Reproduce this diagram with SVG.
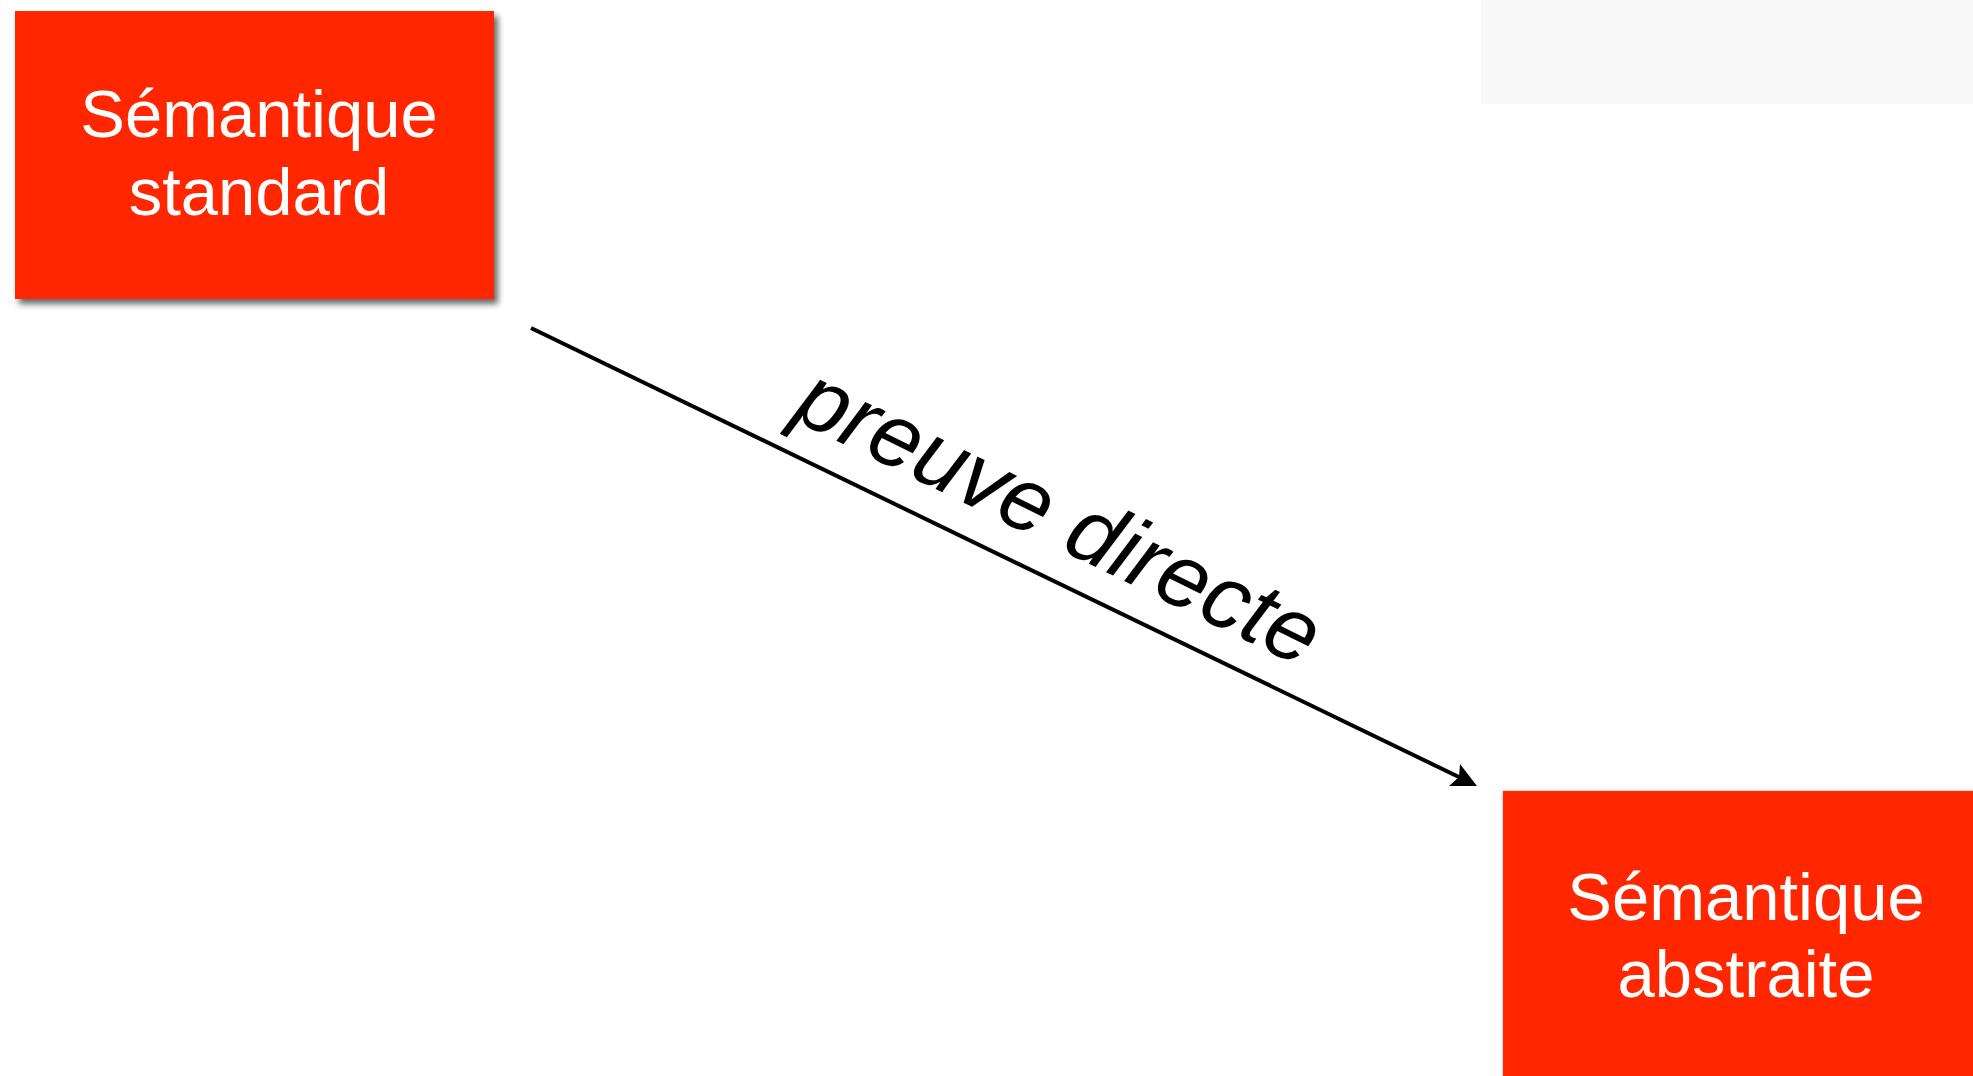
<svg xmlns="http://www.w3.org/2000/svg" width="1973" height="1076" viewBox="0 0 1973 1076">
  <style>
    .box { fill: #ff2600; }
    .box-label { font-family: "Liberation Sans", Arial, sans-serif; font-size: 67px; fill: #ffffff; text-anchor: middle; }
    .edge { stroke: #000000; stroke-width: 4; fill: none; }
    .edge-label { font-family: "Liberation Sans", Arial, sans-serif; font-size: 90px; font-style: italic; fill: #000000; }
  </style>
  <defs>
    <filter id="drop" x="-10%" y="-10%" width="130%" height="130%">
      <feGaussianBlur in="SourceAlpha" stdDeviation="3"/>
      <feOffset dx="4" dy="5" result="blur"/>
      <feComponentTransfer><feFuncA type="linear" slope="0.6"/></feComponentTransfer>
      <feMerge><feMergeNode/><feMergeNode in="SourceGraphic"/></feMerge>
    </filter>
    <filter id="halo" x="-10%" y="-10%" width="130%" height="130%">
      <feGaussianBlur in="SourceAlpha" stdDeviation="1.5"/>
      <feComponentTransfer><feFuncA type="linear" slope="0.35"/></feComponentTransfer>
      <feMerge><feMergeNode/><feMergeNode in="SourceGraphic"/></feMerge>
    </filter>
  </defs>

  <rect width="1973" height="1076" fill="#ffffff"/>

  <!-- light panel in the upper right corner -->
  <rect x="1481" y="0" width="492" height="104" fill="#f9f9f9"/>

  <g id="node-standard">
    <rect class="box" x="15" y="11" width="479" height="288" filter="url(#drop)"/>
    <text class="box-label" x="259" y="137">Sémantique</text>
    <text class="box-label" x="259" y="215">standard</text>
  </g>

  <g id="node-abstraite">
    <rect class="box" x="1503" y="791" width="490" height="300" filter="url(#halo)"/>
    <text class="box-label" x="1746" y="920">Sémantique</text>
    <text class="box-label" x="1746" y="997">abstraite</text>
  </g>

  <g id="connectors">
    <line class="edge" x1="531" y1="328" x2="1463" y2="779"/>
    <polygon points="1477,786 1449,786 1459,777 1460,764" fill="#000000"/>
    <text class="edge-label" transform="translate(790,418) rotate(26)">preuve directe</text>
  </g>
</svg>
